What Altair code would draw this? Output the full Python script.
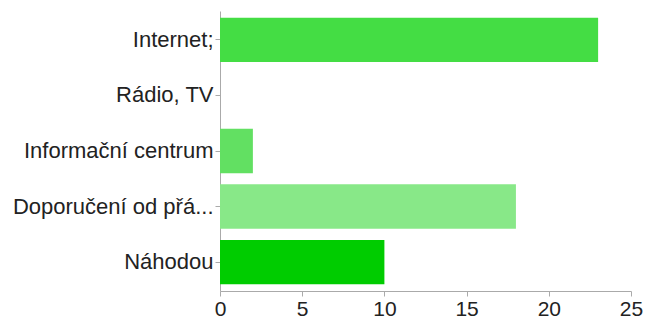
import altair as alt
import pandas as pd

# Survey answers and their counts
categories = ["Internet;", "Rádio, TV", "Informační centrum", "Doporučení od přá...", "Náhodou"]
counts = [23, 0, 2, 18, 10]
bar_colors = ["#44dd44", "#000000", "#62e062", "#88e888", "#00cc00"]

df = pd.DataFrame({"odpoved": categories, "pocet": counts})

chart = (
    alt.Chart(df)
    .mark_bar()
    .encode(
        y=alt.Y(
            "odpoved:N",
            sort=categories,
            title=None,
            scale=alt.Scale(paddingInner=0.2, paddingOuter=0.12),
            axis=alt.Axis(
                labelFont="Liberation Sans",
                labelFontSize=22,
                labelColor="#222222",
                labelPadding=2,
                labelLimit=260,
                tickSize=5,
                tickColor="#aaaaaa",
                domainColor="#aaaaaa",
                grid=False,
            ),
        ),
        x=alt.X(
            "pocet:Q",
            title=None,
            scale=alt.Scale(domain=[0, 25], nice=False),
            axis=alt.Axis(
                values=[0, 5, 10, 15, 20, 25],
                labelFont="Liberation Sans",
                labelFontSize=21,
                labelColor="#222222",
                labelPadding=2,
                tickSize=5,
                tickColor="#aaaaaa",
                domainColor="#aaaaaa",
                grid=False,
                labelFlush=False,
            ),
        ),
        color=alt.Color(
            "odpoved:N",
            scale=alt.Scale(domain=categories, range=bar_colors),
            legend=None,
        ),
    )
    .properties(
        width=411,
        height=280,
        autosize=alt.AutoSizeParams(type="none"),
        padding={"left": 220, "top": 11, "right": 15, "bottom": 29},
    )
    .configure_view(stroke=None)
)

chart.save("out.html", embed_options={"renderer": "svg", "actions": False})
